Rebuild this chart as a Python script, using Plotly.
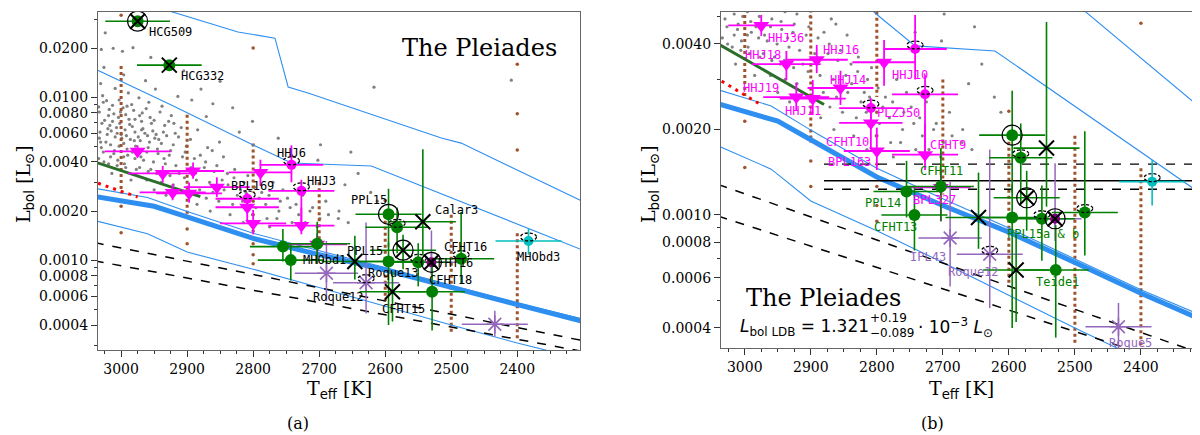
import numpy as np
import plotly.graph_objects as go

# ---------------- model sequences (Teff [K], L [Lsun]) ----------------
thick_teff = [3040, 2950, 2900, 2800, 2700, 2600, 2500, 2400, 2300]
thick_lum = [0.00246, 0.00214, 0.00184, 0.00136, 0.00108, 0.00087, 0.00068, 0.00053, 0.00042]
near_teff = [3040, 2960, 2900, 2800, 2700, 2600, 2500, 2400, 2300]
near_lum = [0.00276, 0.00242, 0.00199, 0.00146, 0.00114, 0.00090, 0.00070, 0.000545, 0.000435]
low_teff = [3040, 2960, 2900, 2800, 2700, 2600, 2500, 2400, 2340]
low_lum = [0.00175, 0.00145, 0.00112, 0.00088, 0.00068, 0.00052, 0.00040, 0.00031, 0.00027]
mid_teff = [3040, 2924, 2800, 2742, 2621, 2305]
mid_lum = [0.0149, 0.00893, 0.00508, 0.00394, 0.00378, 0.00117]
top_teff = [2950, 2823, 2767, 2747, 2717, 2515, 2485, 2300]
top_lum = [0.0360, 0.0251, 0.0230, 0.01153, 0.0106, 0.00561, 0.00522, 0.00228]
dash_teff = [3040, 2300]
dash_hi_lum = [0.00128, 0.00032]
dash_lo_lum = [0.00099, 0.000275]
green_seq_teff = [3040, 2880]
green_seq_lum = [0.0040, 0.00245]
red_seq_teff = [3035, 2975]
red_seq_lum = [0.00296, 0.00244]

# LDB luminosity and its limits (panel b)
ldb_teff = [2880, 2300]
ldb_lum = 0.001321
ldb_lum_hi = 0.001511
ldb_lum_lo = 0.001232

# model grid columns (brown dots)
grid_teff = [3000, 2900, 2800, 2700, 2600, 2500, 2400]
grid_lum_top = [0.0155, 0.0078, 0.0052, 0.0030, 0.0019, 0.0019, 0.00146]
grid_lum_bot = [0.00256, 0.00180, 0.00260, 0.00118, 0.00056, 0.00035, 0.00032]
grid_extra_teff = [3000, 3000, 3000, 2900, 2900, 2800, 2800, 2800, 2800, 2800, 2800, 2800, 2600, 2400, 2400, 2400]
grid_extra_lum = [0.0318, 0.00214, 0.00147, 0.00155, 0.00126, 0.0200, 0.0023, 0.0019, 0.00151,
                  0.00126, 0.00108, 0.00095, 0.00232, 0.0159, 0.0079, 0.00473]

# field / cluster members (grey dots)
field_teff = [3030, 3012, 2998, 2982, 3026, 2996, 2963, 2948, 2914, 2893,
              3031, 3009, 2989, 2973, 2958, 3027, 3013, 2997, 2981, 2941,
              2924, 3033, 3019, 3004, 2988, 2969, 2954, 2934, 2909, 2884,
              3029, 3017, 3007, 2994, 2979, 2964, 2947, 2931, 2913, 3032,
              3021, 3009, 2999, 2986, 2971, 2957, 2939, 2921, 2901, 2869,
              2851, 3031, 3016, 3003, 2991, 2976, 2961, 2944, 2927, 2907,
              2889, 3027, 3011, 2996, 2979, 2966, 2951, 2933, 2917, 2894,
              2874, 2859, 2839, 3019, 3006, 2993, 2977, 2959, 2946, 2926,
              2904, 2886, 2866, 2847, 2829, 2814, 2961, 2939, 2921, 2899,
              2881, 2861, 2844, 2824, 2811, 2791, 2776, 2759, 2871, 2852,
              2831, 2816, 2796, 2781, 2761, 2744, 2731, 2714, 2699, 2686,
              2671, 2656, 2801, 2779, 2764, 2741, 2721, 2703, 2742, 2702,
              2652, 2821, 2762, 2871, 2801, 2861, 2879, 2831, 2698, 2641,
              2622, 2661, 2612, 2617, 2409, 2670, 3024, 2955, 2905, 2850,
              3034, 3014, 2985, 2950, 2932, 2885, 2865, 2835, 2815, 2775,
              3025, 3015, 3002, 2992, 2983, 2974, 2967, 2952, 2943, 2936,
              3028, 3018, 3003, 2993, 2984, 2972, 2962, 2956, 2928, 2918,
              3033, 3023, 3013, 3006, 2996, 2987, 2978, 2969, 2959, 2949,
              3030, 3020, 3010, 3000, 2990, 2980, 2970, 2960, 2945, 2935,
              3034, 3022, 3011, 3001, 2991, 2979, 2968, 2950, 2938, 2920,
              3026, 3016, 3005, 2995, 2983, 2972, 2955, 2940, 2925, 2912,
              2903, 2895, 2880, 2872, 2862, 2855, 2845, 2838, 2828, 2819,
              2808, 2798, 2787, 2770, 2755, 2748, 2735, 2725, 2710, 2690]
field_lum = [0.0196, 0.0199, 0.0191, 0.0201, 0.0152, 0.0137, 0.0126, 0.0112, 0.0101, 0.0096,
             0.0121, 0.0113, 0.0106, 0.0099, 0.0093, 0.0093, 0.0089, 0.0086, 0.0083, 0.0081,
             0.0077, 0.0081, 0.0077, 0.0075, 0.0073, 0.0071, 0.0069, 0.0067, 0.0065, 0.0063,
             0.0069, 0.0067, 0.0065, 0.0063, 0.0061, 0.0060, 0.0059, 0.0058, 0.0057, 0.0061,
             0.0059, 0.0057, 0.0056, 0.0055, 0.0054, 0.0053, 0.0052, 0.0051, 0.0050, 0.0049,
             0.0053, 0.0053, 0.0051, 0.0050, 0.0048, 0.0047, 0.0046, 0.0045, 0.0044, 0.0043,
             0.0042, 0.0046, 0.0045, 0.0043, 0.0042, 0.0041, 0.0040, 0.0039, 0.0038, 0.0037,
             0.0037, 0.0035, 0.0034, 0.0039, 0.0038, 0.0037, 0.0036, 0.0035, 0.0034, 0.0033,
             0.0032, 0.0031, 0.0030, 0.0031, 0.0032, 0.0030, 0.0031, 0.0030, 0.0029, 0.0028,
             0.0027, 0.0026, 0.0027, 0.0025, 0.0026, 0.0024, 0.0025, 0.0023, 0.0024, 0.0023,
             0.0022, 0.0023, 0.0021, 0.0022, 0.0020, 0.0021, 0.0019, 0.0020, 0.0018, 0.0019,
             0.0018, 0.0017, 0.0019, 0.0018, 0.0018, 0.0017, 0.0017, 0.0016, 0.0044, 0.0041,
             0.0046, 0.0061, 0.0056, 0.0076, 0.0071, 0.0091, 0.0112, 0.0086, 0.0051, 0.0034,
             0.0026, 0.0029, 0.0023, 0.0115, 0.0127, 0.0020, 0.0248, 0.0175, 0.0145, 0.0125,
             0.0042, 0.0034, 0.0031, 0.0027, 0.0025, 0.0022, 0.0020, 0.0019, 0.0017, 0.0016,
             0.0072, 0.0062, 0.0069, 0.0058, 0.0066, 0.0057, 0.0064, 0.0062, 0.0055, 0.0061,
             0.0102, 0.0084, 0.0096, 0.0078, 0.0090, 0.0077, 0.0085, 0.0075, 0.0071, 0.0060,
             0.0056, 0.0053, 0.0071, 0.0060, 0.0052, 0.0068, 0.0050, 0.0063, 0.0049, 0.0056,
             0.0049, 0.0064, 0.0047, 0.0059, 0.0044, 0.0054, 0.0043, 0.0058, 0.0048, 0.0042,
             0.0087, 0.0095, 0.0079, 0.0081, 0.0088, 0.0073, 0.0080, 0.0072, 0.0088, 0.0069,
             0.0040, 0.0043, 0.0041, 0.0039, 0.0046, 0.0037, 0.0036, 0.0035, 0.0047, 0.0034,
             0.0046, 0.0055, 0.0044, 0.0040, 0.0047, 0.0038, 0.0043, 0.0029, 0.0036, 0.0027,
             0.0033, 0.0028, 0.0026, 0.0030, 0.0027, 0.0024, 0.0022, 0.0025, 0.0021, 0.0023]

# ---------------- objects ----------------
mag_tri_name = ["HHJ36", "HHJ18", "HHJ16", "HHJ10", "HHJ14", "HHJ19", "HHJ11", "CFHT10", "BPL163", "CFHT9", "BPL327"]
mag_tri_teff = [2975, 2937, 2891, 2789, 2855, 2922, 2897, 2809, 2800, 2727, 2703]
mag_tri_teff_err = [50, 52, 47, 48, 50, 50, 50, 48, 50, 50, 45]
mag_tri_lum = [0.00465, 0.00340, 0.00352, 0.00345, 0.00280, 0.00260, 0.00257, 0.00211, 0.00168, 0.00163, 0.00125]
mag_tri_lum_lo = [0.00427, 0.00298, 0.00316, 0.00285, 0.00244, 0.00233, 0.00225, 0.00172, 0.00144, 0.00144, 0.00095]
mag_tri_lum_hi = [0.00506, 0.00378, 0.00397, 0.00413, 0.00322, 0.00292, 0.00299, 0.00240, 0.00203, 0.00210, 0.00145]

mag_circ_name = ["HHJ6", "HHJ3", "PLZJ50"]
mag_circ_teff = [2742, 2727, 2809]
mag_circ_teff_err = [48, 50, 48]
mag_circ_lum = [0.00384, 0.00266, 0.00238]
mag_circ_lum_lo = [0.00300, 0.00162, 0.00211]
mag_circ_lum_hi = [0.00506, 0.00311, 0.00258]

green_name = ["HCG509", "HCG332", "PPL15", "PPL15c", "PPL14", "CFHT11", "CFHT13", "PPL15a", "PPL15b", "CFHT16", "Teide1"]
green_teff = [2975, 2927, 2595, 2582, 2755, 2703, 2743, 2595, 2550, 2485, 2529]
green_teff_err = [49, 49, 50, 48, 50, 50, 50, 50, 50, 50, 50]
green_lum = [0.0292, 0.0157, 0.00191, 0.00159, 0.00121, 0.00126, 0.00100, 0.00098, 0.00097, 0.00102, 0.00064]
green_lum_lo = [0.0280, 0.0150, 0.00120, 0.00110, 0.00098, 0.00095, 0.00075, 0.00040, 0.00069, 0.00072, 0.00037]
green_lum_hi = [0.0305, 0.0165, 0.00274, 0.00210, 0.00155, 0.00172, 0.00125, 0.00128, 0.00127, 0.00197, 0.00092]

cross_name = ["Calar3", "PPL15d", "PPL15X", "CFHT15"]
cross_teff = [2543, 2573, 2646, 2589]
cross_teff_err = [50, 50, 50, 50]
cross_lum = [0.00172, 0.00115, 0.00098, 0.00064]
cross_lum_lo = [0.00107, 0.00088, 0.00076, 0.00042]
cross_lum_hi = [0.00478, 0.00143, 0.00141, 0.00085]

pur_name = ["IPL43", "Roque12", "Roque5", "CFHT16b"]
pur_teff = [2689, 2629, 2434, 2530]
pur_teff_err = [48, 50, 50, 40]
pur_lum = [0.00083, 0.000727, 0.000404, 0.00097]
pur_lum_lo = [0.00056, 0.00047, 0.00034, 0.00081]
pur_lum_hi = [0.00131, 0.00170, 0.00049, 0.00152]

cyan_name = ["MHObd3"]
cyan_teff = [2383]
cyan_teff_err = [50]
cyan_lum = [0.00131]
cyan_lum_lo = [0.00108]
cyan_lum_hi = [0.00156]

solid_ring = ["HCG509", "PPL15", "PPL15d", "CFHT16b"]
dashed_ring = ["HHJ6", "HHJ3", "PLZJ50", "PPL15c", "PPL15b", "CFHT16", "Roque12", "MHObd3"]
cross_overlay = ["HCG509", "HCG332", "CFHT16b"]

# labels: (text, object, xanchor, xshift px, yshift px)
labels_a = [("HCG509", "HCG509", "left", 9, -11), ("HCG332", "HCG332", "left", 10, -11),
            ("HHJ6", "HHJ6", "center", 0, 12), ("HHJ3", "HHJ3", "left", 4, 10),
            ("BPL169", "PLZJ50", "center", 5, 13), ("PPL15", "PPL15", "right", 0, 14),
            ("Calar3", "Calar3", "left", 10, 12), ("PPL15", "PPL15X", "center", 10, 11),
            ("MHObd1", "CFHT13", "left", 10, 0), ("Roque13", "Roque12", "left", 0, 10),
            ("CFHT16", "CFHT16", "center", 4, 12), ("CFHT16", "CFHT16b", "left", -3, -1),
            ("CFHT18", "Teide1", "left", -5, 12), ("CFHT15", "CFHT15", "center", 11, -17),
            ("Roque12", "IPL43", "center", 12, -24), ("MHObd3", "MHObd3", "center", 10, -16)]
MAG, GRN, PUR = "#ff00ff", "green", "#9467bd"
labels_b = [("HHJ36", "HHJ36", "left", 5, -13, MAG), ("HHJ18", "HHJ18", "right", -3, 9, MAG),
            ("HHJ16", "HHJ16", "left", 4, 10, MAG), ("HHJ10", "HHJ10", "left", 6, -13, MAG),
            ("HHJ14", "HHJ14", "center", 7, 8, MAG), ("HHJ19", "HHJ19", "right", -15, 9, MAG),
            ("HHJ11", "HHJ11", "center", -10, -12, MAG), ("PLZJ50", "PLZJ50", "left", 4, -5, MAG),
            ("CFHT10", "CFHT10", "right", 0, -19, MAG), ("BPL163", "BPL163", "right", -4, -11, MAG),
            ("CFHT9", "CFHT9", "left", 3, 10, MAG), ("CFHT11", "CFHT11", "center", 1, 15, GRN),
            ("BPL327", "BPL327", "center", -6, -13, MAG), ("PPL14", "PPL14", "right", -4, -12, GRN),
            ("CFHT13", "CFHT13", "center", -19, -12, GRN), ("PPL15a & b", "PPL15a", "left", -7, -17, GRN),
            ("Teide1", "Teide1", "center", 2, -12, GRN), ("IPL43", "IPL43", "center", -22, -19, PUR),
            ("Roque12", "Roque12", "center", -16, -18, PUR), ("Roque5", "Roque5", "center", 12, -16, PUR)]

# lookup of positions
pos = {}
for names, tt, ll in [(mag_tri_name, mag_tri_teff, mag_tri_lum), (mag_circ_name, mag_circ_teff, mag_circ_lum),
                      (green_name, green_teff, green_lum), (cross_name, cross_teff, cross_lum),
                      (pur_name, pur_teff, pur_lum), (cyan_name, cyan_teff, cyan_lum)]:
    for n, t, l in zip(names, tt, ll):
        pos[n] = (t, l)

fig = go.Figure()
BLUE = "#2f8ff0"


def line(xa, ya, x, y, color, width, dash="solid"):
    fig.add_trace(go.Scatter(x=x, y=y, mode="lines", xaxis=xa, yaxis=ya, showlegend=False,
                             hoverinfo="skip", line=dict(color=color, width=width, dash=dash)))


def points(xa, ya, teff, lum, terr, lo, hi, marker, ecolor, ew=1.6):
    plus = [h - l for l, h in zip(lum, hi)]
    minus = [l - o for l, o in zip(lum, lo)]
    fig.add_trace(go.Scatter(
        x=teff, y=lum, mode="markers", xaxis=xa, yaxis=ya, showlegend=False, hoverinfo="skip",
        marker=marker,
        error_x=dict(type="data", array=terr, color=ecolor, thickness=ew, width=0),
        error_y=dict(type="data", symmetric=False, array=plus, arrayminus=minus,
                     color=ecolor, thickness=ew, width=0)))


for xa, ya in [("x", "y"), ("x2", "y2")]:
    # grey members
    fig.add_trace(go.Scatter(x=field_teff, y=field_lum, mode="markers", xaxis=xa, yaxis=ya,
                             showlegend=False, hoverinfo="skip",
                             marker=dict(color="#808080", size=3.2)))
    # model grid columns
    gx, gy = [], []
    for t, a, b in zip(grid_teff, grid_lum_top, grid_lum_bot):
        gx += [t, t, None]
        gy += [a, b, None]
    line(xa, ya, gx, gy, "#a0522d", 3, "3px,3px")
    fig.add_trace(go.Scatter(x=grid_extra_teff, y=grid_extra_lum, mode="markers", xaxis=xa, yaxis=ya,
                             showlegend=False, hoverinfo="skip",
                             marker=dict(color="#a0522d", size=3.5)))
    # isochrones
    line(xa, ya, top_teff, top_lum, BLUE, 1.1)
    line(xa, ya, mid_teff, mid_lum, BLUE, 1.1)
    line(xa, ya, near_teff, near_lum, BLUE, 1.1)
    line(xa, ya, low_teff, low_lum, BLUE, 1.1)
    line(xa, ya, thick_teff, thick_lum, BLUE, 5)
    line(xa, ya, dash_teff, dash_hi_lum, "black", 1.5, "dash")
    line(xa, ya, dash_teff, dash_lo_lum, "black", 1.5, "dash")
    line(xa, ya, green_seq_teff, green_seq_lum, "#2a6e2a", 3)
    line(xa, ya, red_seq_teff, red_seq_lum, "red", 3, "3px,5px")
    if xa == "x2":
        line(xa, ya, ldb_teff, [ldb_lum] * 2, "black", 1.5)
        line(xa, ya, ldb_teff, [ldb_lum_hi] * 2, "black", 1.3, "dash")
        line(xa, ya, ldb_teff, [ldb_lum_lo] * 2, "black", 1.3, "dash")

    points(xa, ya, mag_tri_teff, mag_tri_lum, mag_tri_teff_err, mag_tri_lum_lo, mag_tri_lum_hi,
           dict(symbol="triangle-down", size=14, color=MAG), MAG, 1.8)
    points(xa, ya, mag_circ_teff, mag_circ_lum, mag_circ_teff_err, mag_circ_lum_lo, mag_circ_lum_hi,
           dict(symbol="circle", size=10, color=MAG), MAG, 1.8)
    points(xa, ya, pur_teff, pur_lum, pur_teff_err, pur_lum_lo, pur_lum_hi,
           dict(symbol="asterisk-open", size=15, color=PUR, line=dict(color=PUR, width=1.6)), PUR, 1.5)
    points(xa, ya, green_teff, green_lum, green_teff_err, green_lum_lo, green_lum_hi,
           dict(symbol="circle", size=12, color="green"), "green", 1.6)
    points(xa, ya, cross_teff, cross_lum, cross_teff_err, cross_lum_lo, cross_lum_hi,
           dict(symbol="x-thin", size=15, color="black", line=dict(color="black", width=2)), "green", 1.6)
    points(xa, ya, cyan_teff, cyan_lum, cyan_teff_err, cyan_lum_lo, cyan_lum_hi,
           dict(symbol="circle", size=10, color="#00bfbf"), "#00bfbf", 1.6)
    # purple circle under the ring/cross
    fig.add_trace(go.Scatter(x=[pos["CFHT16b"][0]], y=[pos["CFHT16b"][1]], mode="markers", xaxis=xa, yaxis=ya,
                             showlegend=False, hoverinfo="skip",
                             marker=dict(symbol="circle", size=10, color="purple")))
    fig.add_trace(go.Scatter(x=[pos[n][0] for n in cross_overlay], y=[pos[n][1] for n in cross_overlay],
                             mode="markers", xaxis=xa, yaxis=ya, showlegend=False, hoverinfo="skip",
                             marker=dict(symbol="x-thin", size=15, color="black",
                                         line=dict(color="black", width=2))))
    fig.add_trace(go.Scatter(x=[pos[n][0] for n in solid_ring], y=[pos[n][1] for n in solid_ring],
                             mode="markers", xaxis=xa, yaxis=ya, showlegend=False, hoverinfo="skip",
                             marker=dict(symbol="circle-open", size=20, color="black",
                                         line=dict(color="black", width=1.2))))
    for n in dashed_ring:
        t, l = pos[n]
        fig.add_shape(type="circle", xref=xa, yref=ya, xsizemode="pixel", ysizemode="pixel",
                      xanchor=t, yanchor=l, x0=-8, x1=8, y0=-8, y1=8,
                      line=dict(color="black", width=1.3, dash="3px,2px"))

lab_font = "DejaVu Sans Mono"
for text, n, anc, dx, dy in labels_a:
    t, l = pos[n]
    fig.add_annotation(x=t, y=np.log10(l), xref="x", yref="y", text=text, showarrow=False,
                       xanchor=anc, xshift=dx, yshift=dy, font=dict(family=lab_font, size=12, color="black"))
for text, n, anc, dx, dy, col in labels_b:
    t, l = pos[n]
    fig.add_annotation(x=t, y=np.log10(l), xref="x2", yref="y2", text=text, showarrow=False,
                       xanchor=anc, xshift=dx, yshift=dy, font=dict(family=lab_font, size=12, color=col))

W, H = 1200, 435


def paper_text(px, py, text, size, family="DejaVu Serif", anchor="center", angle=0):
    fig.add_annotation(xref="paper", yref="paper", x=px / W, y=1 - py / H, text=text, showarrow=False,
                       xanchor=anchor, yanchor="middle", textangle=angle,
                       font=dict(family=family, size=size, color="black"))


sub = '<sub><span style="font-family:DejaVu Sans">%s</span></sub>'
ytitle = "L" + sub % "bol" + " [L<sub>⊙</sub>]"
xtitle = "T" + sub % "eff" + " [K]"
paper_text(16, 176, ytitle, 19, angle=-90)
paper_text(641, 176, ytitle, 19, angle=-90)
paper_text(331, 381, xtitle, 19)
paper_text(953, 381, xtitle, 19)
paper_text(290, 415, "(a)", 16)
paper_text(924, 415, "(b)", 16)
paper_text(471, 40, "The Pleiades", 24)
paper_text(815, 290, "The Pleiades", 24)
paper_text(730, 319, "<i>L</i><sub>bol LDB</sub> = 1.321", 17, "DejaVu Sans", "left")
paper_text(860, 310, "+0.19", 12, "DejaVu Sans", "left")
paper_text(860, 325, "\u22120.089", 12, "DejaVu Sans", "left")
paper_text(908, 319, "\u00b7 10<sup>\u22123</sup> <i>L</i><sub>\u2299</sub>", 17, "DejaVu Sans", "left")

left_ticks = [0.0004, 0.0006, 0.0008, 0.001, 0.002, 0.004, 0.006, 0.008, 0.01, 0.02]
left_minor = [0.0003, 0.0005, 0.0007, 0.0009, 0.003, 0.005, 0.007, 0.009, 0.03]
right_ticks = [0.0004, 0.0006, 0.0008, 0.001, 0.002, 0.004]
right_minor = [0.0005, 0.0007, 0.0009, 0.003, 0.005]

common = dict(showgrid=False, zeroline=False, showline=True, mirror=True, linecolor="#666666",
              linewidth=1.3, ticks="outside", ticklen=6, tickwidth=1.2, tickcolor="#333333",
              tickfont=dict(family="DejaVu Serif", size=14, color="black"))
xcommon = dict(common, tickmode="linear", tick0=2000, dtick=100,
               minor=dict(tickmode="linear", tick0=2000, dtick=25, ticks="outside", ticklen=3,
                          tickcolor="#333333"))

fig.update_layout(
    width=W, height=H, margin=dict(l=0, r=0, t=0, b=0),
    plot_bgcolor="white", paper_bgcolor="white", showlegend=False,
    xaxis=dict(xcommon, domain=[90 / W, 572 / W], range=[3035, 2305], anchor="y"),
    yaxis=dict(common, domain=[93 / H, 431 / H], type="log", range=[-3.5513, -1.4781], anchor="x",
               tickmode="array", tickvals=left_ticks, ticktext=["%.4f" % v for v in left_ticks],
               minor=dict(tickmode="array", tickvals=left_minor, ticks="outside", ticklen=3,
                          tickcolor="#333333")),
    xaxis2=dict(xcommon, domain=[713 / W, 1193 / W], range=[3036, 2309], anchor="y2"),
    yaxis2=dict(common, domain=[95 / H, 431 / H], type="log", range=[-3.4684, -2.2853], anchor="x2",
                tickmode="array", tickvals=right_ticks, ticktext=["%.4f" % v for v in right_ticks],
                minor=dict(tickmode="array", tickvals=right_minor, ticks="outside", ticklen=3,
                           tickcolor="#333333")),
)

fig.write_html("out.html")
